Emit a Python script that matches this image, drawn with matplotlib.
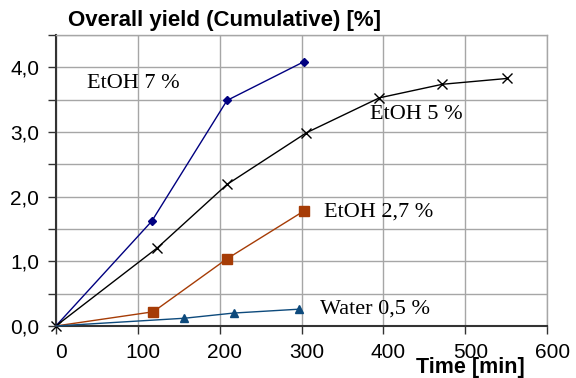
import matplotlib.pyplot as plt
from matplotlib.ticker import MultipleLocator
from matplotlib.transforms import ScaledTranslation

# data
t_7 = [0, 117, 209, 303]
y_7 = [0.0, 1.62, 3.49, 4.09]

t_5 = [0, 124, 209, 306, 395, 472, 551]
y_5 = [0.0, 1.21, 2.19, 2.99, 3.53, 3.74, 3.83]

t_27 = [0, 119, 209, 303]
y_27 = [0.0, 0.22, 1.04, 1.78]

t_w = [0, 157, 217, 297]
y_w = [0.0, 0.12, 0.20, 0.26]

x_ticks = [0, 100, 200, 300, 400, 500, 600]
y_ticks = [0.0, 1.0, 2.0, 3.0, 4.0]
y_labels = ['0,0', '1,0', '2,0', '3,0', '4,0']

fig = plt.figure(figsize=(5.76, 3.78), dpi=100)
ax = fig.add_axes([0.097, 0.1376, 0.853, 0.7694])

grid_c = '#a6a6a6'
ax.plot(t_7, y_7, color='#000080', lw=1.0, marker='D', ms=4, markevery=slice(1, None), clip_on=False, zorder=3)
ax.plot(t_5, y_5, color='black', lw=1.0, marker='x', ms=7, mew=1.0, clip_on=False, zorder=3)
ax.plot(t_27, y_27, color='#a63c06', lw=1.0, marker='s', ms=7, markevery=slice(1, None), clip_on=False, zorder=3)
ax.plot(t_w, y_w, color='#0d4a7c', lw=1.0, marker='^', ms=6, markevery=slice(1, None), clip_on=False, zorder=3)

ax.set_xlim(0, 600)
ax.set_ylim(0, 4.5)
ax.set_xticks(x_ticks)
ax.set_yticks(y_ticks)
ax.set_yticklabels(y_labels)
ax.yaxis.set_minor_locator(MultipleLocator(0.5))
ax.grid(True, which='both', color=grid_c, lw=1.0)
ax.set_axisbelow(True)

for s in ['top', 'right']:
    ax.spines[s].set_color(grid_c)
    ax.spines[s].set_linewidth(1.0)
for s in ['left', 'bottom']:
    ax.spines[s].set_color('#333333')
    ax.spines[s].set_linewidth(1.5)

ax.tick_params(axis='both', which='both', direction='out', length=6, width=1.0, color='#333333')
ax.tick_params(axis='both', labelsize=15, pad=6)
for lab in ax.get_xticklabels() + ax.get_yticklabels():
    lab.set_fontfamily('Liberation Sans')
# the labels sit a little right of their ticks in the reference
shift = ScaledTranslation(5 / 100, 0, fig.dpi_scale_trans)
for lab in ax.get_xticklabels():
    lab.set_transform(lab.get_transform() + shift)

serif = dict(family='Liberation Serif', fontsize=16, va='center', ha='left')
ax.text(38, 3.75, 'EtOH 7 %', **serif)
ax.text(383, 3.27, 'EtOH 5 %', **serif)
ax.text(328, 1.77, 'EtOH 2,7 %', **serif)
ax.text(322, 0.26, 'Water 0,5 %', **serif)

fig.text(0.118, 0.945, 'Overall yield (Cumulative) [%]', family='Liberation Sans',
         fontweight='bold', fontsize=16, va='center', ha='left')
fig.text(0.816, 0.027, 'Time [min]', family='Liberation Sans',
         fontweight='bold', fontsize=15.5, va='center', ha='center')

fig.savefig('out.png', dpi=100)
